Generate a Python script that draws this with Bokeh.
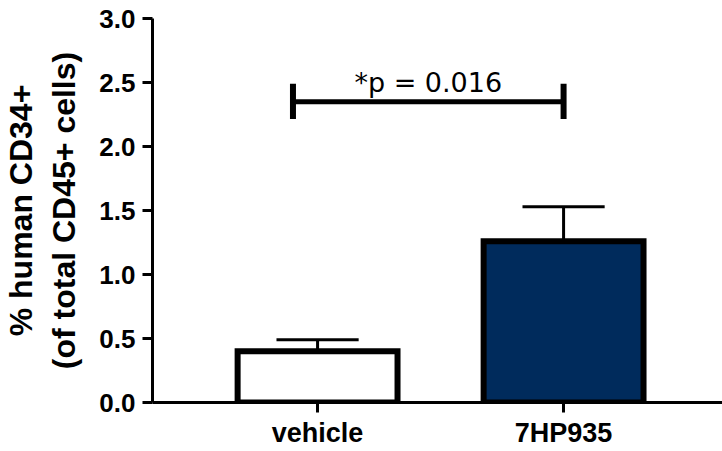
from bokeh.plotting import figure
from bokeh.models import Range1d, FixedTicker, PrintfTickFormatter, ColumnDataSource
from bokeh.embed import file_html
from bokeh.resources import INLINE
from bokeh.core.properties import value

# ---- data ----
categories = ["vehicle", "7HP935"]
means = [0.40, 1.26]
sems = [0.09, 0.27]
bar_colors = ["#ffffff", "#002B5C"]
y_ticks = [0.0, 0.5, 1.0, 1.5, 2.0, 2.5, 3.0]
p_text = "*p = 0.016"
bracket_y = 2.35

xs = [i + 1 for i in range(len(categories))]
tops = [m + s for m, s in zip(means, sems)]
src = ColumnDataSource(dict(x=xs, top=means, upper=tops, color=bar_colors,
                            cap_l=[x - 0.167 for x in xs], cap_r=[x + 0.167 for x in xs]))

p = figure(width=722, height=451, output_backend="svg", toolbar_location=None,
           x_range=Range1d(0.329, 2.646), y_range=Range1d(0, 3.0),
           min_border_left=152, min_border_top=18, min_border_right=0, min_border_bottom=49)
p.outline_line_color = None
p.xgrid.visible = False
p.ygrid.visible = False
p.background_fill_color = "white"

# error bars (upper only)
p.segment(x0="x", y0="top", x1="x", y1="upper", source=src, line_color="black", line_width=3)
p.segment(x0="cap_l", y0="upper", x1="cap_r", y1="upper", source=src, line_color="black", line_width=3)
# bars
p.vbar(x="x", top="top", bottom=0, width=0.65, source=src, fill_color="color",
       line_color="black", line_width=6, line_join="miter")

# significance bracket
bx0, bx1 = 0.90, xs[1]
p.segment(x0=[bx0], y0=[bracket_y], x1=[bx1], y1=[bracket_y], line_color="black", line_width=5)
p.segment(x0=[bx0, bx1], y0=[bracket_y - 0.135] * 2, x1=[bx0, bx1], y1=[bracket_y + 0.14] * 2,
          line_color="black", line_width=6)
p.text(x=[(bx0 + bx1) / 2], y=[2.50], text=[p_text], text_font=value("DejaVu Sans"),
       text_font_size="27px", text_align="center", text_baseline="alphabetic", text_color="black")

# axes
for ax in (p.xaxis[0], p.yaxis[0]):
    ax.axis_line_width = 3
    ax.axis_line_color = "black"
    ax.major_tick_line_width = 3
    ax.major_tick_line_color = "black"
    ax.major_tick_out = 10
    ax.major_tick_in = 0
    ax.minor_tick_line_color = None
    ax.major_label_text_font = "Liberation Sans"
    ax.major_label_text_font_style = "bold"
    ax.major_label_text_color = "black"

p.yaxis.ticker = FixedTicker(ticks=y_ticks)
p.yaxis.formatter = PrintfTickFormatter(format="%.1f")
p.yaxis.major_label_text_font_size = "26px"
p.yaxis.major_label_standoff = 7
p.yaxis.axis_label = "% human CD34+\n(of total CD45+ cells)"
p.yaxis.axis_label_text_font = "Liberation Sans"
p.yaxis.axis_label_text_font_style = "bold"
p.yaxis.axis_label_text_font_size = "32px"
p.yaxis.axis_label_text_color = "black"
p.yaxis.axis_label_standoff = 14

p.xaxis.ticker = FixedTicker(ticks=xs)
p.xaxis.major_label_overrides = {x: c for x, c in zip(xs, categories)}
p.xaxis.major_label_text_font_size = "27px"
p.xaxis.major_label_standoff = 5

open("out.html", "w").write(file_html(p, INLINE))
